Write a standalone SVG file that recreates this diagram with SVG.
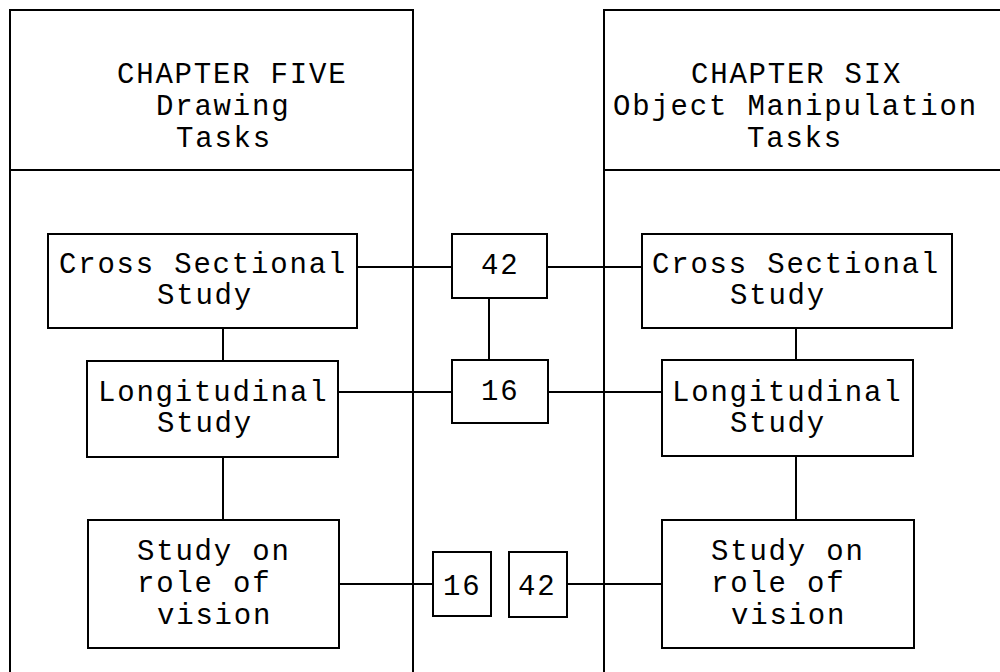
<svg xmlns="http://www.w3.org/2000/svg" width="1000" height="672" viewBox="0 0 1000 672">
<style>
.b{fill:#fff;stroke:#000;stroke-width:2}
.l{fill:none;stroke:#000;stroke-width:2}
text{font-family:"Liberation Mono","Courier New",monospace;font-size:29px;letter-spacing:1.8px;fill:#000}
</style>
<rect width="1000" height="672" fill="#fff"/>
<g id="panel-five">
<path class="l" d="M10,675 V10 H413 V675 M10,170 H413"/>
<text x="117" y="83">CHAPTER FIVE</text>
<text x="156" y="115">Drawing</text>
<text x="176" y="147">Tasks</text>
</g>
<g id="panel-six">
<path class="l" d="M604,675 V10 H1005 M604,170 H1005"/>
<text x="691" y="83">CHAPTER SIX</text>
<text x="613" y="115">Object Manipulation</text>
<text x="747" y="147">Tasks</text>
</g>
<g id="connectors">
<path class="l" d="M357,267 H452 M547,267 H642 M489,298 V360 M338,392 H452 M548,392 H662 M339,584 H433 M567,584 H662 M223,328 V361 M223,457 V520 M796,328 V360 M796,456 V520"/>
</g>
<g id="cs-left">
<rect class="b" x="48" y="234" width="309" height="94"/>
<text x="59" y="273">Cross Sectional</text>
<text x="157" y="304">Study</text>
</g>
<g id="cs-right">
<rect class="b" x="642" y="234" width="310" height="94"/>
<text x="652" y="273">Cross Sectional</text>
<text x="730" y="304">Study</text>
</g>
<g id="n42-top">
<rect class="b" x="452" y="234" width="95" height="64"/>
<text x="481" y="274">42</text>
</g>
<g id="n16-mid">
<rect class="b" x="452" y="360" width="96" height="63"/>
<text x="481" y="400">16</text>
</g>
<g id="long-left">
<rect class="b" x="87" y="361" width="251" height="96"/>
<text x="98" y="401">Longitudinal</text>
<text x="157" y="432">Study</text>
</g>
<g id="long-right">
<rect class="b" x="662" y="360" width="251" height="96"/>
<text x="672" y="401">Longitudinal</text>
<text x="730" y="432">Study</text>
</g>
<g id="vision-left">
<rect class="b" x="88" y="520" width="251" height="128"/>
<text x="137" y="560">Study on</text>
<text x="137" y="592">role of</text>
<text x="157" y="624">vision</text>
</g>
<g id="vision-right">
<rect class="b" x="662" y="520" width="252" height="128"/>
<text x="711" y="560">Study on</text>
<text x="711" y="592">role of</text>
<text x="731" y="624">vision</text>
</g>
<g id="n16-bottom">
<rect class="b" x="433" y="552" width="58" height="64"/>
<text x="443" y="595">16</text>
</g>
<g id="n42-bottom">
<rect class="b" x="509" y="552" width="58" height="65"/>
<text x="518" y="595">42</text>
</g>
</svg>
